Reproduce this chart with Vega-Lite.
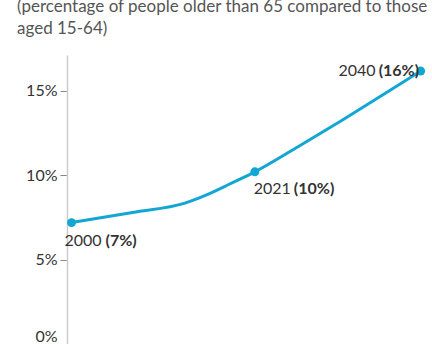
{
  "$schema": "https://vega.github.io/schema/vega-lite/v6.json",
  "autosize": "none",
  "width": 365,
  "height": 289.5,
  "padding": {"left": 67, "top": 55, "right": 0, "bottom": 0},
  "background": "white",
  "config": {"view": {"stroke": null}, "font": "Lato"},
  "title": {
    "text": ["(percentage of people older than 65 compared to those", "aged 15-64)"],
    "anchor": "start",
    "frame": "group",
    "dx": -50,
    "offset": 4,
    "baseline": "alphabetic",
    "fontSize": 17,
    "font": "Lato",
    "fontWeight": "normal",
    "color": "#555555",
    "lineHeight": 22
  },
  "datasets": {
    "series": [
      {"year": 2000, "value": 7.2},
      {"year": 2007, "value": 7.8},
      {"year": 2013, "value": 8.35},
      {"year": 2016, "value": 8.95},
      {"year": 2018, "value": 9.45},
      {"year": 2021, "value": 10.2},
      {"year": 2026, "value": 11.7},
      {"year": 2031, "value": 13.25},
      {"year": 2036, "value": 14.85},
      {"year": 2040, "value": 16.15}
    ],
    "marks": [
      {"year": 2000, "value": 7.2, "ylab": "2000", "plab": "(7%)"},
      {"year": 2021, "value": 10.2, "ylab": "2021", "plab": "(10%)"},
      {"year": 2040, "value": 16.15, "ylab": "2040", "plab": "(16%)"}
    ]
  },
  "encoding": {
    "x": {"field": "year", "type": "quantitative", "scale": {"domain": [1999.48, 2041.3], "nice": false, "zero": false}, "axis": null},
    "y": {"field": "value", "type": "quantitative", "scale": {"domain": [0, 17.1], "nice": false},
      "axis": {"values": [0, 5, 10, 15], "labelExpr": "datum.value + '%'", "grid": false, "domainColor": "#cccccc", "domainWidth": 1.5, "tickColor": "#888888", "tickSize": 7, "labelPadding": 3, "labelFontSize": 16, "labelFont": "Lato", "labelColor": "#333333", "labelFlush": true, "title": null}}
  },
  "layer": [
    {"data": {"name": "series"}, "mark": {"type": "line", "interpolate": "monotone", "color": "#12a6d3", "strokeWidth": 3}},
    {"data": {"name": "marks"}, "mark": {"type": "point", "filled": true, "color": "#12a6d3", "size": 80, "opacity": 1}},
    {"data": {"name": "marks"}, "transform": [{"filter": "datum.year == 2000"}], "mark": {"type": "text", "align": "right", "baseline": "alphabetic", "dx": 30, "dy": 23, "fontSize": 16, "font": "Lato", "color": "#333333"}, "encoding": {"text": {"field": "ylab"}}},
    {"data": {"name": "marks"}, "transform": [{"filter": "datum.year == 2000"}], "mark": {"type": "text", "align": "left", "baseline": "alphabetic", "dx": 34, "dy": 23, "fontSize": 16, "font": "Lato", "fontWeight": "bold", "color": "#333333"}, "encoding": {"text": {"field": "plab"}}},
    {"data": {"name": "marks"}, "transform": [{"filter": "datum.year == 2021"}], "mark": {"type": "text", "align": "right", "baseline": "alphabetic", "dx": 36, "dy": 22, "fontSize": 16, "font": "Lato", "color": "#333333"}, "encoding": {"text": {"field": "ylab"}}},
    {"data": {"name": "marks"}, "transform": [{"filter": "datum.year == 2021"}], "mark": {"type": "text", "align": "left", "baseline": "alphabetic", "dx": 39, "dy": 22, "fontSize": 16, "font": "Lato", "fontWeight": "bold", "color": "#333333"}, "encoding": {"text": {"field": "plab"}}},
    {"data": {"name": "marks"}, "transform": [{"filter": "datum.year == 2040"}], "mark": {"type": "text", "align": "right", "baseline": "alphabetic", "dx": -45, "dy": 5, "fontSize": 16, "font": "Lato", "color": "#333333"}, "encoding": {"text": {"field": "ylab"}}},
    {"data": {"name": "marks"}, "transform": [{"filter": "datum.year == 2040"}], "mark": {"type": "text", "align": "left", "baseline": "alphabetic", "dx": -42, "dy": 5, "fontSize": 16, "font": "Lato", "fontWeight": "bold", "color": "#333333"}, "encoding": {"text": {"field": "plab"}}}
  ]
}
